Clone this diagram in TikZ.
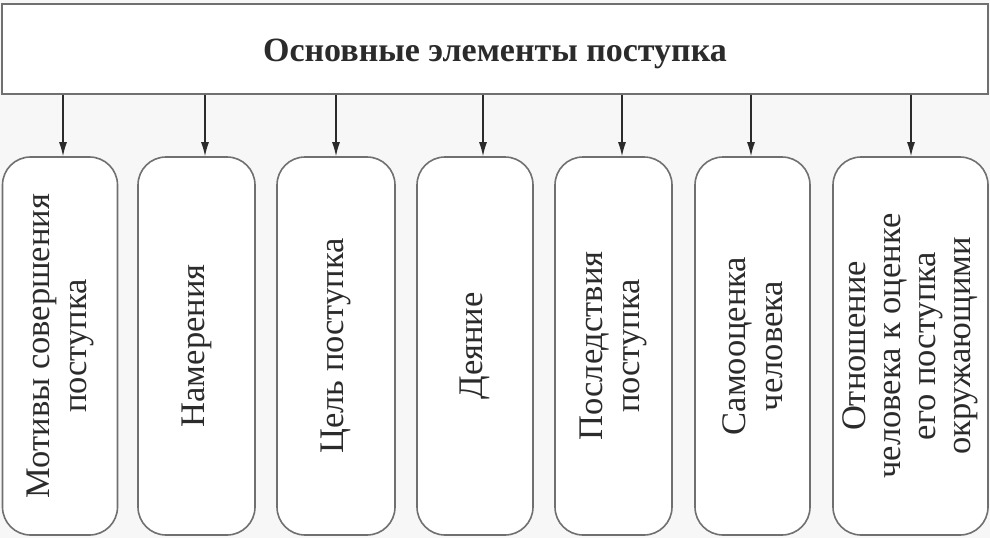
\documentclass[tikz,border=0pt]{standalone}
\usepackage{fontspec}
\setmainfont{Liberation Serif}
\usetikzlibrary{arrows.meta}
\definecolor{frame}{HTML}{707070}
\definecolor{ink}{HTML}{2B2B2B}

\begin{document}
\begin{tikzpicture}[x=1pt, y=-1pt, every node/.style={text=ink},
    head/.style={draw=frame, line width=1.6pt, fill=white, minimum width=986pt,
      minimum height=90pt, text height=28pt, text depth=4pt,
      font=\bfseries\fontsize{34}{40}\selectfont},
    elem/.style={draw=frame, line width=1.6pt, fill=white, rounded corners=28pt,
      rotate=90, align=center, inner sep=0pt, minimum width=378pt,
      font=\fontsize{34.5}{37}\selectfont},
    arr/.style={-{Latex[length=14pt,width=8pt]}, line width=1.2pt, draw=ink}]
  \fill[white!97!black] (0,0) rectangle (990,538);
  \useasboundingbox (0,0) rectangle (990,538);
  % header
  \node[head] (top) at (495,49) {Основные элементы поступка};
  % elements
  \node[elem, minimum height=115pt] (e1) at (60,346) {Мотивы совершения\\поступка};
  \node[elem, minimum height=117pt] (e2) at (196.5,346) {Намерения};
  \node[elem, minimum height=118pt] (e3) at (336,346) {Цель поступка};
  \node[elem, minimum height=116pt] (e4) at (475,346) {Деяние};
  \node[elem, minimum height=117pt] (e5) at (613.5,346) {Последствия\\поступка};
  \node[elem, minimum height=115pt] (e6) at (752.5,346) {Самооценка\\человека};
  \node[elem, minimum height=155pt, font=\fontsize{34.5}{35}\selectfont] (e7) at (910.5,346)
    {Отношение\\человека к оценке\\его поступка\\окружающими};
  % arrows
  \foreach \n/\ax in {1/63, 2/205, 3/336, 4/483, 5/622, 6/751, 7/911}
    \draw[arr] (\ax,0 |- top.south) -- (\ax,0 |- e\n.east);
\end{tikzpicture}
\end{document}
